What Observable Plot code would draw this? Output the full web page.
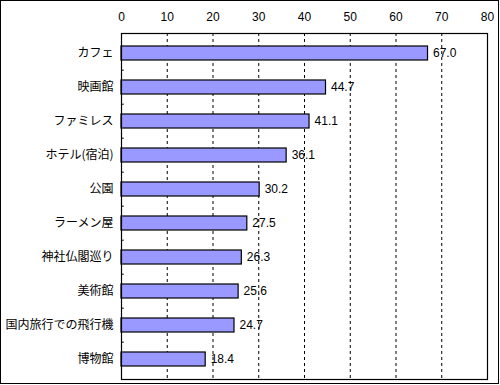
<!DOCTYPE html>
<html>
<head>
<meta charset="utf-8">
<script src="https://cdn.jsdelivr.net/npm/d3@7"></script>
<script src="https://cdn.jsdelivr.net/npm/@observablehq/plot@0.6"></script>
<style>
  html, body { margin: 0; padding: 0; background: #fff; }
  #chart { width: 500px; height: 385px; position: relative; }
  #chart svg { display: block; }
  #frame { position: absolute; left: 0; top: 0; width: 497px; height: 382px; border: 1px solid #000; pointer-events: none; }
</style>
</head>
<body>
<div id="chart"><div id="frame"></div></div>
<script>
const categories = ["カフェ", "映画館", "ファミレス", "ホテル(宿泊)", "公園", "ラーメン屋", "神社仏閣巡り", "美術館", "国内旅行での飛行機", "博物館"];
const values = [67.0, 44.7, 41.1, 36.1, 30.2, 27.5, 26.3, 25.6, 24.7, 18.4];
const xTicks = [0, 10, 20, 30, 40, 50, 60, 70, 80];
const gridTicks = [10, 20, 30, 40, 50, 60, 70];

const data = categories.map((c, i) => ({category: c, value: values[i]}));
const font = "'MS PGothic', 'Noto Sans CJK JP', sans-serif";
const numFont = "'Liberation Sans', Arial, sans-serif";

const marginTop = 33, marginBottom = 6;
const height = 385;
const bandStep = (height - marginTop - marginBottom) / categories.length;

const chart = Plot.plot({
  width: 500,
  height,
  marginLeft: 121,
  marginRight: 13,
  marginTop,
  marginBottom,
  style: {fontFamily: font, fontSize: "12px", color: "#000", background: "transparent"},
  x: {domain: [0, 80], ticks: xTicks},
  y: {domain: categories, padding: 0.6, paddingOuter: 0.3, align: 0.5},
  marks: [
    Plot.ruleX(gridTicks, {stroke: "#000", strokeDasharray: "3,3", strokeWidth: 1}),
    Plot.barX(data, {y: "category", x: "value", fill: "#9999FF", stroke: "#000", strokeWidth: 1.2}),
    Plot.text(data, {y: "category", x: "value", text: d => d.value.toFixed(1), textAnchor: "start", dx: 5, fill: "#000", fontSize: 12, fontFamily: numFont}),
    Plot.ruleY(categories.slice(1), {y: d => d, x1: 0, x2: 0.6, dy: -bandStep / 2, stroke: "#000"}),
    Plot.frame({stroke: "#000", strokeWidth: 1.2}),
    Plot.axisX({anchor: "top", ticks: xTicks, tickSize: 0, tickPadding: 13, label: null, fontSize: 12, fontFamily: numFont}),
    Plot.axisY({anchor: "left", tickSize: 0, tickPadding: 8, label: null, fontSize: 12})
  ]
});
document.getElementById("chart").prepend(chart);
</script>
</body>
</html>
